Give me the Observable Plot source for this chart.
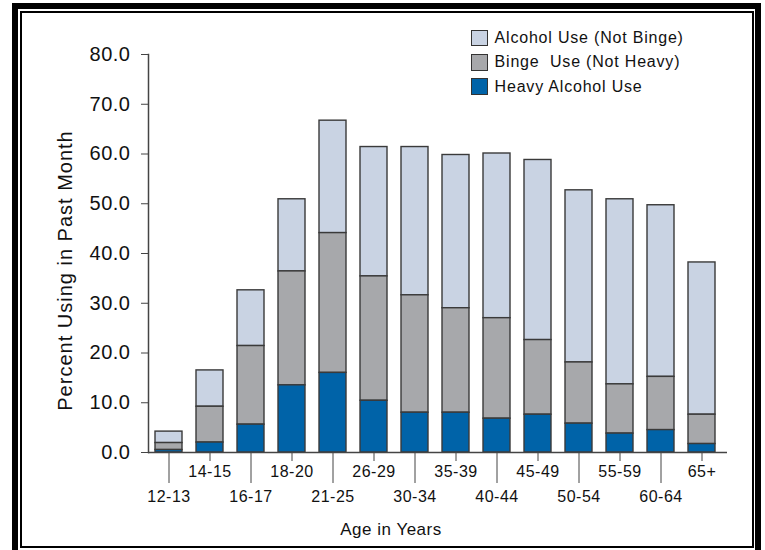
<!DOCTYPE html>
<html>
<head>
<meta charset="utf-8">
<script src="https://cdn.jsdelivr.net/npm/d3@7"></script>
<script src="https://cdn.jsdelivr.net/npm/@observablehq/plot@0.6"></script>
<style>
  html, body { margin: 0; padding: 0; background: #fff; overflow: hidden; }
  body { width: 765px; height: 550px; position: relative; font-family: "Liberation Sans", Arial, sans-serif; }
  #outer { position: absolute; left: 12px; top: 3px; width: 749px; height: 560px; border: 6px solid #000; box-sizing: border-box; }
  #inner { position: absolute; left: 20px; top: 11px; width: 734px; height: 537px; border: 2px solid #000; box-sizing: border-box; }
  #chart { position: absolute; left: 0; top: 0; }
  #legend { position: absolute; left: 471px; top: 26px; font-size: 16px; letter-spacing: 0.8px; color: #111; }
  .item { display: flex; align-items: center; height: 24.3px; }
  .sw { width: 14.6px; height: 14.6px; border: 1px solid #333; margin-right: 7px; flex: none; }
</style>
</head>
<body>
<div id="outer"></div>
<div id="inner"></div>
<div id="chart"></div>
<div id="legend"></div>
<script>
const ages = ["12-13","14-15","16-17","18-20","21-25","26-29","30-34","35-39","40-44","45-49","50-54","55-59","60-64","65+"];
const heavy = [0.5, 2.0, 5.6, 13.5, 16.0, 10.4, 8.0, 8.0, 6.8, 7.6, 5.8, 3.8, 4.5, 1.7];
const bingeNotHeavy = [1.4, 7.2, 15.8, 22.9, 28.1, 25.0, 23.6, 21.0, 20.2, 15.0, 12.3, 9.9, 10.7, 5.9];
const alcoholNotBinge = [2.3, 7.3, 11.2, 14.5, 22.6, 26.0, 29.8, 30.8, 33.1, 36.2, 34.6, 37.2, 34.5, 30.6];
const seriesNames = ["Alcohol Use (Not Binge)", "Binge\u00a0 Use (Not Heavy)", "Heavy Alcohol Use"];
const seriesColors = ["#C9D3E3", "#A7A8AB", "#0063A8"];
const yTicks = [0, 10, 20, 30, 40, 50, 60, 70, 80];
const yLabel = "Percent Using in Past Month";
const xLabel = "Age in Years";

const seriesValues = [alcoholNotBinge, bingeNotHeavy, heavy];
const table = [];
ages.forEach((age, i) => {
  seriesNames.forEach((s, j) => table.push({age, series: s, value: seriesValues[j][i]}));
});
const upperAges = ages.filter((d, i) => i % 2 === 1);
const lowerAges = ages.filter((d, i) => i % 2 === 0);

const chart = Plot.plot({
  width: 765,
  height: 550,
  marginLeft: 148,
  marginRight: 38,
  marginTop: 54,
  marginBottom: 98,
  style: {fontFamily: "'Liberation Sans', Arial, sans-serif", background: "transparent", color: "#111", overflow: "visible"},
  x: {domain: ages, padding: 0.34, paddingOuter: 0.121, align: 0.36},
  y: {domain: [0, 80]},
  color: {domain: seriesNames, range: seriesColors},
  marks: [
    Plot.barY(table, {x: "age", y: "value", fill: "series", stroke: "#3a3a3a", strokeWidth: 1.4,
      order: [seriesNames[2], seriesNames[1], seriesNames[0]]}),
    Plot.ruleY([0], {stroke: "#444", strokeWidth: 1.5}),
    Plot.frame({anchor: "left", stroke: "#444", strokeWidth: 1.5}),
    Plot.axisY({ticks: yTicks, tickFormat: d3.format(".1f"), tickSize: 7, tickPadding: 11, fontSize: 20, label: null, stroke: "#444"}),
    Plot.axisX({ticks: upperAges, tickSize: 9, tickPadding: 4, fontSize: 16, label: null, stroke: "#444"}),
    Plot.axisX({ticks: lowerAges, tickSize: 31, tickPadding: 7, fontSize: 16, label: null, stroke: "#444"}),
    Plot.text([yLabel], {text: d => d, frameAnchor: "left", textAnchor: "middle", lineAnchor: "middle", rotate: -90, dx: -83, dy: 17, fontSize: 20}),
    Plot.text([xLabel], {text: d => d, frameAnchor: "bottom", textAnchor: "middle", lineAnchor: "middle", dx: -47, dy: 77, fontSize: 17})
  ]
});
chart.style.letterSpacing = "0.5px";
d3.select(chart).selectAll("text").filter(function() { return this.textContent === yLabel; }).style("letter-spacing", "1px");
document.getElementById("chart").appendChild(chart);

const legend = d3.select("#legend");
seriesNames.forEach((s, j) => {
  const item = legend.append("div").attr("class", "item");
  item.append("div").attr("class", "sw").style("background", seriesColors[j]);
  item.append("span").style("white-space", "pre").text(s);
});
</script>
</body>
</html>
